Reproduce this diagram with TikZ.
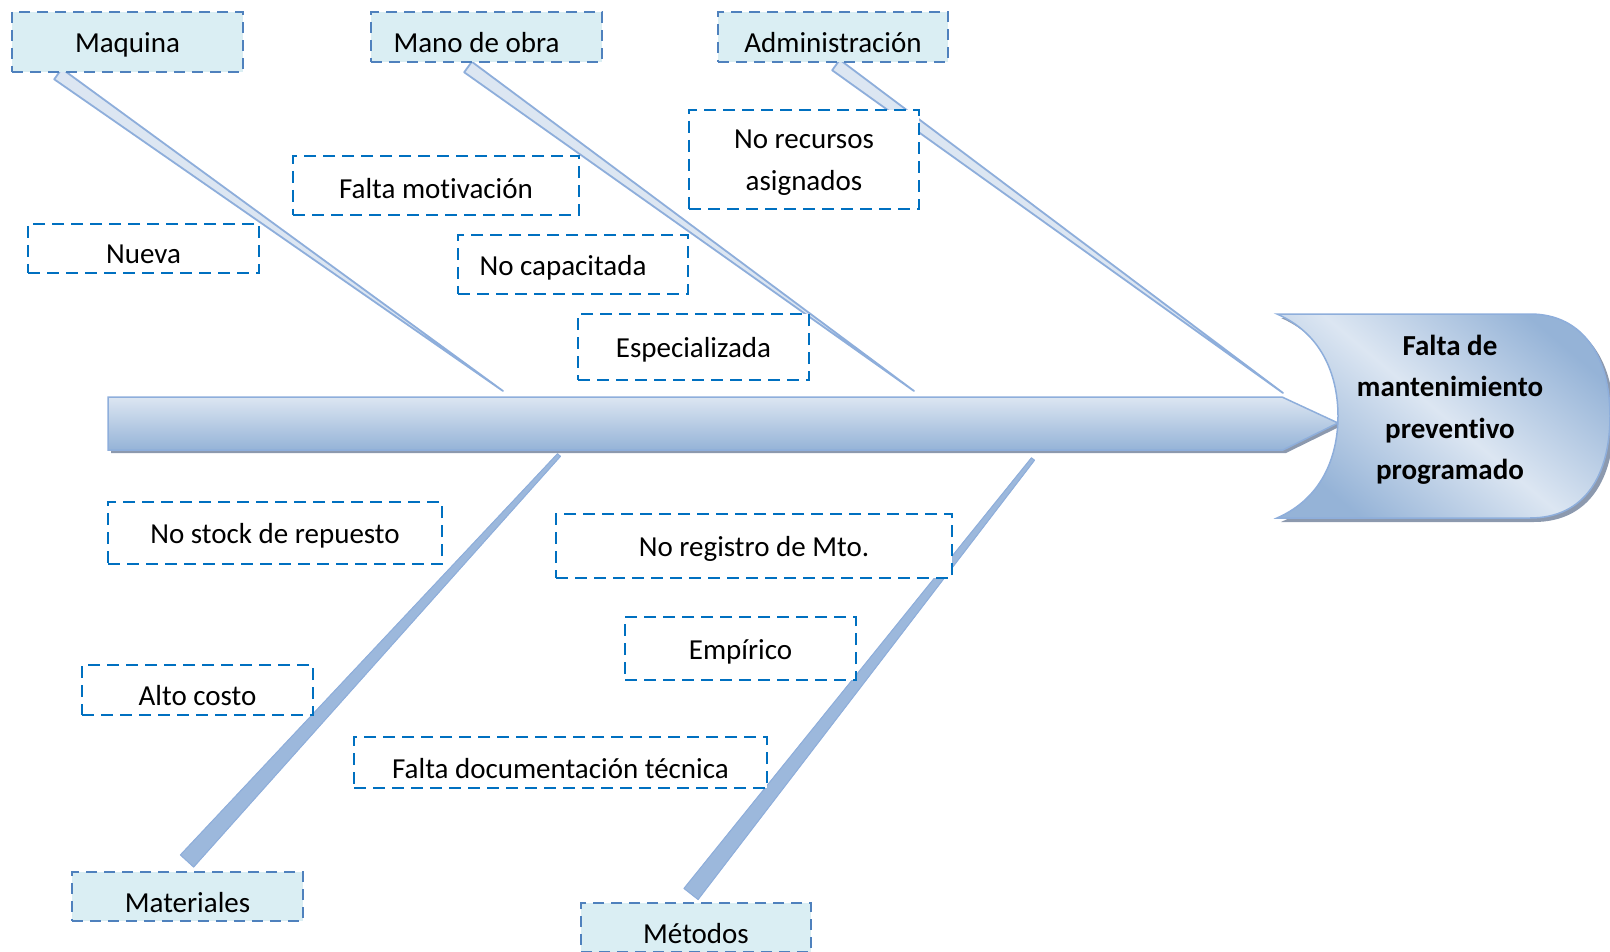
\documentclass[tikz,border=0pt]{standalone}
\usepackage{fontspec}
\setmainfont{Carlito}[Ligatures={CommonOff,ContextualOff}]
\usetikzlibrary{calc}
\definecolor{catfill}{HTML}{DAEEF3}
\definecolor{catline}{HTML}{4F81BD}
\definecolor{causeline}{HTML}{0070C0}
\definecolor{bonelight}{HTML}{DCE6F2}
\definecolor{bonemid}{HTML}{95B3D7}
\definecolor{bonedark}{HTML}{9CB8DC}
\definecolor{boneedge}{HTML}{8EAEDB}
\definecolor{shadowgray}{HTML}{8C99AE}
\begin{document}
\begin{tikzpicture}[x=1pt,y=-1pt,
  catbox/.style={draw=catline, fill=catfill, dash pattern=on 11pt off 7pt, line width=2.8pt, inner sep=0pt},
  causebox/.style={draw=causeline, fill=white, dash pattern=on 12pt off 7pt, line width=2.8pt, inner sep=0pt},
  lbl/.style={inner sep=0pt, align=center, font=\fontsize{29}{42}\selectfont, yshift=-3pt},
  upbone/.style={fill=bonelight, draw=boneedge, line width=1.8pt, line join=round},
  lowbone/.style={fill=bonedark, draw=boneedge, line width=1pt, line join=round},
  shadowfill/.style={fill=shadowgray}]
\useasboundingbox (0,0) rectangle (1610,952);

% ---- upper bones
\coordinate (maqS) at (58,74);   \coordinate (maqE) at (503,391);
\coordinate (manS) at (468,67);  \coordinate (manE) at (914,391);
\coordinate (admS) at (836,65);  \coordinate (admE) at (1283,393);
\foreach \s/\e in {maqS/maqE, manS/manE, admS/admE}{
  \fill[shadowfill, xshift=1.5pt, yshift=-2pt] ($(\s)!6.5pt!90:(\e)$) -- ($(\s)!6.5pt!-90:(\e)$) -- (\e) -- cycle;
  \draw[upbone] ($(\s)!6.5pt!90:(\e)$) -- ($(\s)!6.5pt!-90:(\e)$) -- (\e) -- cycle;
}

% ---- lower bones
\coordinate (matT) at (559,455); \coordinate (matB) at (187,861);
\coordinate (metT) at (1033,459); \coordinate (metB) at (691,894);
\foreach \t/\b in {matT/matB, metT/metB}{
  \fill[shadowfill, xshift=3pt, yshift=-1pt] ($(\t)!2pt!90:(\b)$) -- ($(\t)!2pt!-90:(\b)$) -- ($(\b)!9pt!90:(\t)$) -- ($(\b)!9pt!-90:(\t)$) -- cycle;
  \draw[lowbone] ($(\t)!2pt!90:(\b)$) -- ($(\t)!2pt!-90:(\b)$) -- ($(\b)!9pt!90:(\t)$) -- ($(\b)!9pt!-90:(\t)$) -- cycle;
}

% ---- spine
\fill[shadowfill, xshift=3pt, yshift=-3pt] (108,397) -- (1282,397) -- (1338,423) -- (1283,450) -- (108,450) -- cycle;
\draw[top color=bonelight, bottom color=bonemid, draw=boneedge, line width=1.5pt] (108,397) -- (1282,397) -- (1338,423) -- (1283,450) -- (108,450) -- cycle;
\coordinate (tip) at (1338,423);

% ---- head
\fill[shadowfill, xshift=4pt, yshift=-4pt] (1277,314) .. controls (1325,335) and (1338,380) .. (1338,416) .. controls (1338,452) and (1325,497) .. (1277,518) -- (1530,518) .. controls (1585,518) and (1610,475) .. (1610,416) .. controls (1610,360) and (1585,314) .. (1530,314) -- cycle;
\draw[top color=bonemid, bottom color=bonemid, middle color=bonelight, shading angle=-40, draw=boneedge, line width=1.5pt] (1277,314) .. controls (1325,335) and (1338,380) .. (1338,416) .. controls (1338,452) and (1325,497) .. (1277,518) -- (1530,518) .. controls (1585,518) and (1610,475) .. (1610,416) .. controls (1610,360) and (1585,314) .. (1530,314) -- cycle;
\node[lbl, font=\fontsize{29}{41.5}\bfseries] (effect) at (1450,407) {Falta de\\mantenimiento\\preventivo\\programado};

% ---- category boxes
\node[catbox, minimum width=231pt, minimum height=60pt, label={[lbl]center:Maquina}] (maq) at (127.5,42) {};
\node[catbox, minimum width=231pt, minimum height=50pt, label={[lbl, xshift=-10pt, yshift=-3pt]center:Mano de obra}] (man) at (486.5,37) {};
\node[catbox, minimum width=230pt, minimum height=50pt, label={[lbl, yshift=-3pt]center:Administración}] (adm) at (833,37) {};
\node[catbox, minimum width=231pt, minimum height=49pt, label={[lbl, yshift=-3pt]center:Materiales}] (mat) at (187.5,896.5) {};
\node[catbox, minimum width=230pt, minimum height=49pt, label={[lbl, yshift=-3pt]center:Métodos}] (met) at (696,927.5) {};

% ---- cause boxes
\node[causebox, minimum width=230pt, minimum height=99pt, label={[lbl]center:No recursos\\asignados}] (c1) at (804,159.5) {};
\node[causebox, minimum width=286pt, minimum height=59pt, label={[lbl]center:Falta motivación}] (c2) at (436,185.5) {};
\node[causebox, minimum width=231pt, minimum height=49pt, label={[lbl, yshift=-3pt]center:Nueva}] (c3) at (143.5,248.5) {};
\node[causebox, minimum width=230pt, minimum height=59pt, label={[lbl, xshift=-10pt]center:No capacitada}] (c4) at (573,264.5) {};
\node[causebox, minimum width=231pt, minimum height=66pt, label={[lbl]center:Especializada}] (c5) at (693.5,347) {};
\node[causebox, minimum width=334pt, minimum height=62pt, label={[lbl]center:No stock de repuesto}] (c6) at (275,533) {};
\node[causebox, minimum width=396pt, minimum height=64pt, label={[lbl]center:No registro de Mto.}] (c7) at (754,546) {};
\node[causebox, minimum width=231pt, minimum height=63pt, label={[lbl]center:Empírico}] (c8) at (740.5,648.5) {};
\node[causebox, minimum width=231pt, minimum height=50pt, label={[lbl, yshift=-3pt]center:Alto costo}] (c9) at (197.5,690) {};
\node[causebox, minimum width=413pt, minimum height=51pt, label={[lbl, yshift=-3pt]center:Falta documentación técnica}] (c10) at (560.5,762.5) {};
\end{tikzpicture}
\end{document}
